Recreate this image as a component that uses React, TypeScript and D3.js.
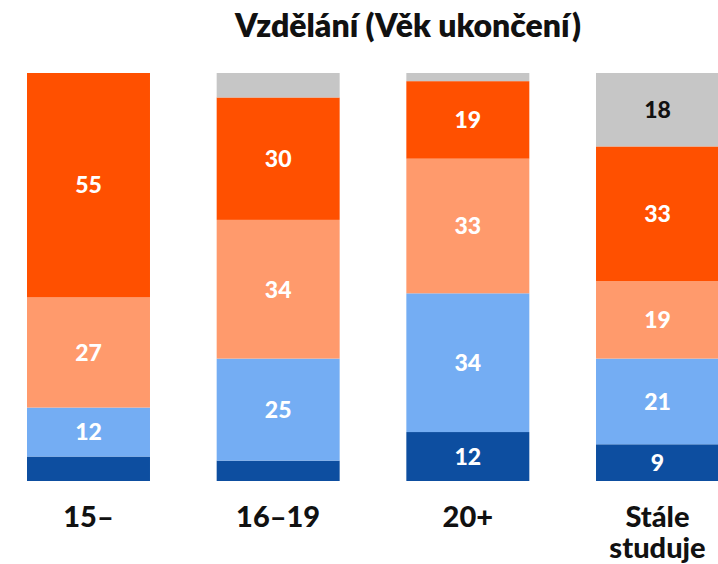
import React from "react";
import * as d3 from "d3";

const categories = ["15–", "16–19", "20+", "Stále studuje"];
const seriesKeys = ["s1", "s2", "s3", "s4", "s5"];
const darkBlue = [6, 5, 12, 9];
const lightBlue = [12, 25, 34, 21];
const lightOrange = [27, 34, 33, 19];
const orange = [55, 30, 19, 33];
const gray = [0, 6, 2, 18];
const colors = ["#0d4ea0", "#74adf3", "#ff9a6c", "#ff5000", "#c6c6c6"];
const labelColors = ["#ffffff", "#ffffff", "#ffffff", "#ffffff", "#111111"];
const title = "Vzdělání (Věk ukončení)";

const W = 718;
const H = 564;
const FONT = "Lato, 'Open Sans', sans-serif";

export default function App() {
  const rows = categories.map((c, i) => ({
    cat: c,
    s1: darkBlue[i],
    s2: lightBlue[i],
    s3: lightOrange[i],
    s4: orange[i],
    s5: gray[i],
  }));
  const stacked = d3.stack<any>().keys(seriesKeys)(rows);

  const x = d3
    .scaleBand<string>()
    .domain(categories)
    .range([27, 719])
    .paddingInner(0.3516)
    .paddingOuter(0);
  const y = d3.scaleLinear().domain([0, 100]).range([481, 73]);

  return (
    <svg
      width={W}
      height={H}
      style={{ position: "absolute", left: 0, top: 0, background: "#fff" }}
      fontFamily={FONT}
    >
      <text
        x={408}
        y={37}
        textAnchor="middle"
        fontSize={32}
        fontWeight={800}
        fill="#111"
      >
        {title}
      </text>
      {stacked.map((layer, li) => (
        <g key={layer.key}>
          {layer.map((d, ci) => {
            const x0 = x(categories[ci])!;
            const y0 = y(d[1]);
            const h = y(d[0]) - y(d[1]);
            const v = d[1] - d[0];
            return (
              <g key={ci}>
                {h > 0 && (
                  <rect
                    x={x0}
                    y={y0}
                    width={x.bandwidth()}
                    height={h}
                    fill={colors[li]}
                  />
                )}
                {v >= 8 && (
                  <text
                    x={x0 + x.bandwidth() / 2}
                    y={y0 + h / 2}
                    dy="0.36em"
                    textAnchor="middle"
                    fontSize={23}
                    fontWeight={900}
                    fill={labelColors[li]}
                  >
                    {v}
                  </text>
                )}
              </g>
            );
          })}
        </g>
      ))}
      {categories.map((c) => {
        const words = c === "Stále studuje" ? ["Stále", "studuje"] : [c];
        const cx = x(c)! + x.bandwidth() / 2;
        return (
          <g key={c}>
            {words.map((w, i) => (
              <text
                key={w}
                x={cx}
                y={527 + i * 31}
                textAnchor="middle"
                fontSize={29}
                fontWeight={900}
                fill="#111"
              >
                {w}
              </text>
            ))}
          </g>
        );
      })}
    </svg>
  );
}
